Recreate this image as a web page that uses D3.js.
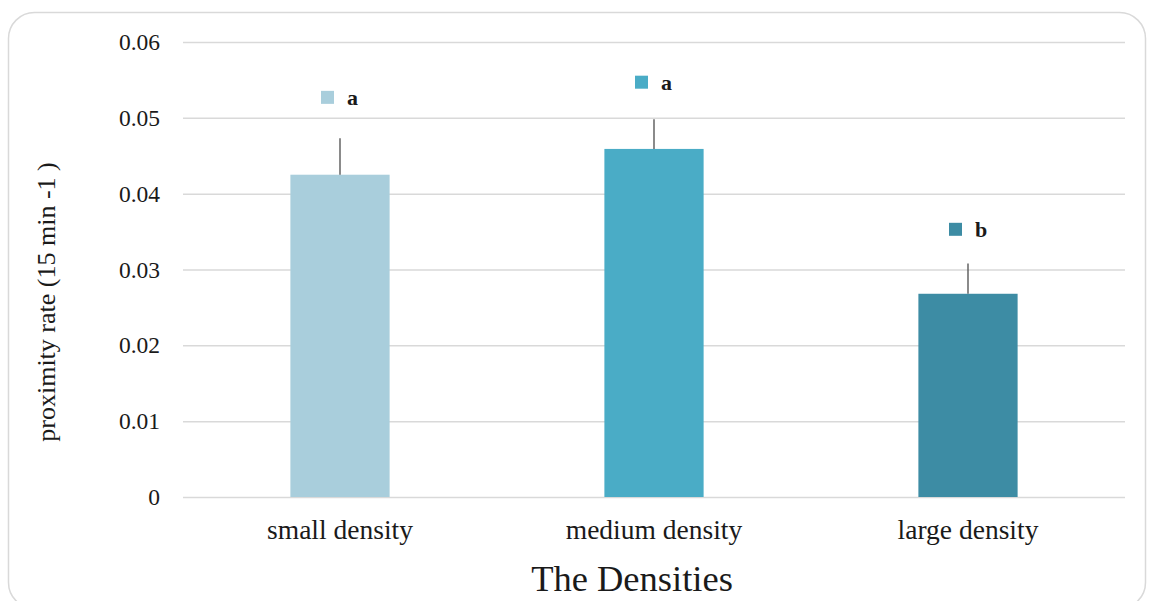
<!DOCTYPE html>
<html lang="en">
<head>
    <meta charset="UTF-8">
    <title>Proximity rate by density</title>
    <style>
    html, body {
        margin: 0;
        padding: 0;
        background-color: #ffffff;
    }

    svg {
        display: block;
    }

    text {
        font-family: "Liberation Serif", "Times New Roman", serif;
        fill: #1a1a1a;
    }

    .grid line {
        stroke: #d9d9d9;
        stroke-width: 1.5;
    }

    .tick text {
        font-size: 23.5px;
    }

    .cat-label {
        font-size: 27.5px;
    }

    .err {
        stroke: #595959;
        stroke-width: 1.4;
    }

    .sig {
        font-size: 22px;
        font-weight: bold;
    }
    </style>
    <script src="https://d3js.org/d3.v7.min.js"></script>
</head>
<body>
    <svg id="canvas"></svg>
    <script>
    // Data
    let categories = ['small density', 'medium density', 'large density'];
    let means = [0.0425, 0.0459, 0.0268];
    let upperErr = [0.0473, 0.0498, 0.0308];
    let sigLetters = ['a', 'a', 'b'];
    let sigAt = [0.0527, 0.0547, 0.0353];
    let yTicks = [0, 0.01, 0.02, 0.03, 0.04, 0.05, 0.06];
    let colors = ['#a9cedc', '#4aacc6', '#3d8ca4'];

    let width = 1154;
    let height = 601;
    let plotLeft = 183;
    let plotRight = 1125;
    let plotTop = 42;
    let plotBottom = 497;

    let svg = d3.select('#canvas')
        .attr('width', width)
        .attr('height', height);

    // outer frame
    svg.append('rect')
        .attr('x', 8.5)
        .attr('y', 12.5)
        .attr('width', 1137)
        .attr('height', 596)
        .attr('rx', 26)
        .attr('fill', 'none')
        .attr('stroke', '#d9d9d9')
        .attr('stroke-width', 1.5);

    let xScale = d3.scaleBand()
        .domain(categories)
        .range([plotLeft, plotRight])
        .padding(0);

    let yScale = d3.scaleLinear()
        .domain([0, 0.06])
        .range([plotBottom, plotTop]);

    let barWidth = xScale.bandwidth() * 0.316;

    // y axis with gridlines
    let yAxis = d3.axisLeft(yScale)
        .tickValues(yTicks)
        .tickFormat((d) => d === 0 ? '0' : d3.format('.2f')(d))
        .tickSize(-(plotRight - plotLeft))
        .tickPadding(23);

    svg.append('g')
        .attr('class', 'grid')
        .attr('transform', 'translate(' + plotLeft + ', 0)')
        .call(yAxis)
        .call((g) => g.select('.domain').remove())
        .call((g) => g.attr('font-family', null).attr('font-size', null));

    // bars
    svg.selectAll('.bar')
        .data(categories)
        .enter()
        .append('rect')
        .attr('class', 'bar')
        .attr('x', (d) => xScale(d) + (xScale.bandwidth() - barWidth) / 2)
        .attr('y', (d, i) => yScale(means[i]))
        .attr('width', barWidth)
        .attr('height', (d, i) => yScale(0) - yScale(means[i]))
        .attr('fill', (d, i) => colors[i]);

    // error bars (upper only)
    svg.selectAll('.err')
        .data(categories)
        .enter()
        .append('line')
        .attr('class', 'err')
        .attr('x1', (d) => xScale(d) + xScale.bandwidth() / 2)
        .attr('x2', (d) => xScale(d) + xScale.bandwidth() / 2)
        .attr('y1', (d, i) => yScale(means[i]))
        .attr('y2', (d, i) => yScale(upperErr[i]));

    // significance markers
    let sig = svg.selectAll('.sig-g')
        .data(categories)
        .enter()
        .append('g')
        .attr('transform', (d, i) => 'translate(' + (xScale(d) + xScale.bandwidth() / 2) + ',' + yScale(sigAt[i]) + ')');

    sig.append('rect')
        .attr('x', -19)
        .attr('y', -6.5)
        .attr('width', 13)
        .attr('height', 13)
        .attr('fill', (d, i) => colors[i]);

    sig.append('text')
        .attr('class', 'sig')
        .attr('x', 7)
        .attr('y', 8)
        .text((d, i) => sigLetters[i]);

    // category labels
    svg.selectAll('.cat-label')
        .data(categories)
        .enter()
        .append('text')
        .attr('class', 'cat-label')
        .attr('x', (d) => xScale(d) + xScale.bandwidth() / 2)
        .attr('y', 539)
        .attr('text-anchor', 'middle')
        .text((d) => d);

    // axis titles
    svg.append('text')
        .attr('x', 632)
        .attr('y', 591)
        .attr('text-anchor', 'middle')
        .attr('font-size', 36.5)
        .text('The Densities');

    svg.append('text')
        .attr('transform', 'translate(55, 302) rotate(-90)')
        .attr('text-anchor', 'middle')
        .attr('font-size', 26)
        .text('proximity rate (15 min -1 )');
    </script>
</body>
</html>
